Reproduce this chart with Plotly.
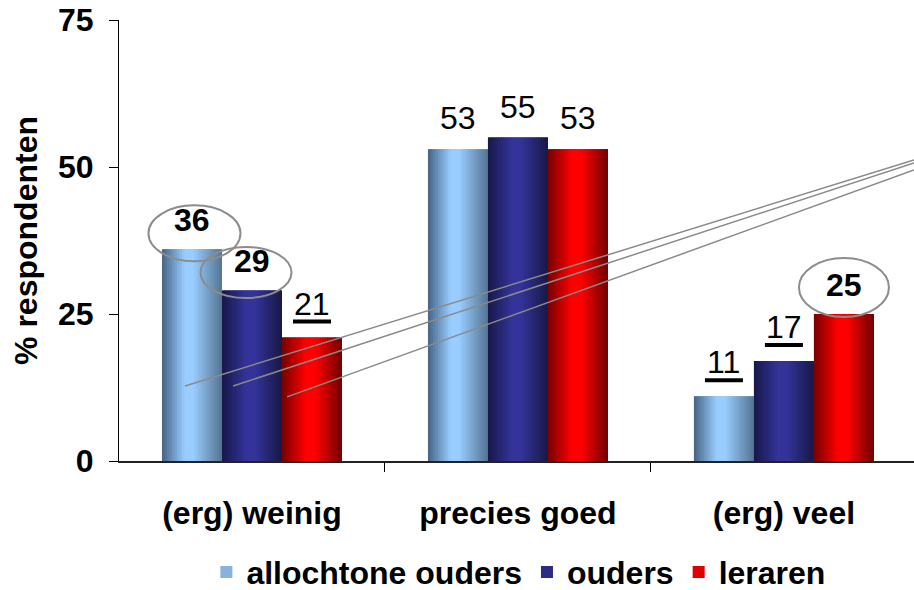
import plotly.graph_objects as go

# ---------------- data ----------------
categories = ["(erg) weinig", "precies goed", "(erg) veel"]
series_names = ["allochtone ouders", "ouders", "leraren"]
allochtone_ouders = [36, 53, 11]
ouders = [29, 55, 17]
leraren = [21, 53, 25]
series_values = [allochtone_ouders, ouders, leraren]
y_ticks = [0, 25, 50, 75]

# label emphasis per (category index, series index)
circled = [(0, 0), (0, 1), (2, 2)]
underlined = [(0, 2), (2, 0), (2, 1)]

# ---------------- style ----------------
FONT = "Liberation Sans, Arial, sans-serif"
FS = 32
BAR_W = 0.2256
N_SLICES = 24
gradients = [
    [(0.0, (70, 100, 132)), (0.38, (153, 204, 255)), (0.52, (153, 204, 255)), (1.0, (84, 116, 146))],
    [(0.0, (24, 24, 74)), (0.40, (51, 51, 153)), (0.55, (51, 51, 153)), (1.0, (24, 24, 70))],
    [(0.0, (120, 0, 0)), (0.40, (255, 0, 0)), (0.55, (255, 0, 0)), (1.0, (112, 0, 0))],
]
legend_colors = ["#86b2dc", "#2c2c86", "#e00000"]
ellipse_px = {(0, 0): (-43.5, 48.5, -12, 44), (0, 1): (-51.5, 39.5, -7.5, 43.5), (2, 2): (-45, 45, -3, 56)}


def interp(stops, t):
    for (t0, c0), (t1, c1) in zip(stops[:-1], stops[1:]):
        if t0 <= t <= t1:
            f = 0 if t1 == t0 else (t - t0) / (t1 - t0)
            return "rgb(%d,%d,%d)" % tuple(round(a + (b - a) * f) for a, b in zip(c0, c1))
    return "rgb(%d,%d,%d)" % stops[-1][1]


xs = list(range(len(categories)))
fig = go.Figure()

for j, (name, vals) in enumerate(zip(series_names, series_values)):
    off = -1.5 * BAR_W + j * BAR_W
    # base bar (legend entry)
    fig.add_trace(go.Bar(x=xs, y=vals, width=BAR_W, offset=off, name=name,
                         marker=dict(color=legend_colors[j], line=dict(width=0)),
                         hovertemplate=name + ": %{y}<extra></extra>"))
    sw = BAR_W / N_SLICES
    for k in range(N_SLICES):
        fig.add_trace(go.Bar(x=xs, y=vals, width=sw * (1.6 if k < N_SLICES - 1 else 1.0),
                             offset=off + k * sw, showlegend=False, hoverinfo="skip",
                             marker=dict(color=interp(gradients[j], (k + 0.5) / N_SLICES),
                                         line=dict(width=0))))

annotations = []
shapes = []
for i in xs:
    for j, vals in enumerate(series_values):
        v = vals[i]
        xc = i - BAR_W + j * BAR_W
        if (i, j) in circled:
            annotations.append(dict(x=xc, y=v, text="<b>%d</b>" % v, showarrow=False,
                                    yanchor="middle", yshift=29, font=dict(size=FS, color="black", family=FONT)))
            x0, x1, y0, y1 = ellipse_px[(i, j)]
            shapes.append(dict(type="circle", xref="x", yref="y", xsizemode="pixel", ysizemode="pixel",
                               xanchor=xc, yanchor=v, x0=x0, x1=x1, y0=y0, y1=y1,
                               line=dict(color="#8c8c8c", width=2), layer="above"))
        elif (i, j) in underlined:
            annotations.append(dict(x=xc, y=v, text="%d" % v, showarrow=False,
                                    yanchor="middle", yshift=34, font=dict(size=FS, color="black", family=FONT)))
            shapes.append(dict(type="line", xref="x", yref="y", xsizemode="pixel", ysizemode="pixel",
                               xanchor=xc, yanchor=v, x0=-19, x1=19, y0=16, y1=16,
                               line=dict(color="black", width=4), layer="above"))
        else:
            annotations.append(dict(x=xc, y=v, text="%d" % v, showarrow=False,
                                    yanchor="middle", yshift=31, font=dict(size=FS, color="black", family=FONT)))

# decorative grey pointer lines
for (x0, y0, x1, y1) in [(-0.252, 12.76, 2.489, 51.2), (-0.071, 12.76, 2.489, 50.7), (0.132, 10.9, 2.489, 49.5)]:
    shapes.append(dict(type="line", xref="x", yref="y", x0=x0, y0=y0, x1=x1, y1=y1,
                       line=dict(color="#8a8a8a", width=1.5), layer="above"))

fig.update_layout(
    width=914, height=590,
    margin=dict(l=119, r=0, t=20, b=129, autoexpand=False),
    paper_bgcolor="white", plot_bgcolor="white",
    barmode="overlay",
    font=dict(family=FONT, size=FS, color="black"),
    showlegend=True,
    legend=dict(orientation="h", x=0.503, xanchor="center", y=-0.252, yanchor="middle",
                font=dict(size=FS, weight="bold", family=FONT), itemclick=False, tracegroupgap=0),
    annotations=annotations, shapes=shapes,
    xaxis=dict(range=[-0.5, 2.489], tickmode="array", tickvals=xs, ticktext=categories,
               ticks="", showgrid=False, zeroline=False, showline=True, linecolor="#222", linewidth=2,
               automargin=False,
               tickfont=dict(size=FS, weight="bold", family=FONT), ticklabelstandoff=23,
               minor=dict(tickmode="array", tickvals=[0.5, 1.5], ticks="outside", ticklen=9,
                          tickcolor="black", tickwidth=1)),
    yaxis=dict(range=[0, 75], tickmode="array", tickvals=y_ticks, ticks="outside", ticklen=9,
               tickcolor="black", showgrid=False, zeroline=False, showline=True, linecolor="black",
               linewidth=1, automargin=False, ticklabelstandoff=9,
               tickfont=dict(size=FS, weight="bold", family=FONT),
               title=dict(text="% respondenten", font=dict(size=FS, weight="bold", family=FONT), standoff=10)),
)

fig.write_html("out.html", config={"displayModeBar": False},
               post_script="document.body.style.margin='0';document.body.style.overflow='hidden';")
